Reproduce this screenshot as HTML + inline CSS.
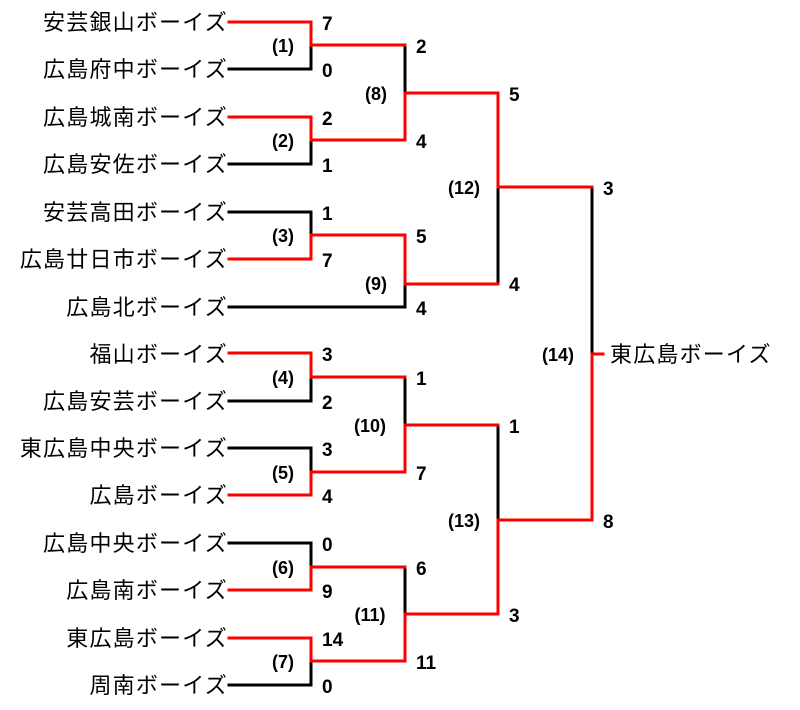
<!DOCTYPE html>
<html><head><meta charset="utf-8"><style>
html,body{margin:0;padding:0;background:#fff;}
svg{display:block}
.t{font-family:"Liberation Sans","Noto Sans CJK JP",sans-serif;font-size:22px;fill:#000;letter-spacing:1.2px}
.s{font-family:"Liberation Sans Narrow","Liberation Sans",sans-serif;font-size:19px;font-weight:bold;fill:#000}
.m{font-family:"Liberation Sans Narrow","Liberation Sans",sans-serif;font-size:18px;font-weight:bold;fill:#000;text-anchor:middle}
</style></head><body>
<svg width="800" height="710" viewBox="0 0 800 710" xmlns="http://www.w3.org/2000/svg">
<g fill="none" stroke-width="3" stroke-linecap="square">
<g stroke="#000">
<path d="M229 69H311V45"/>
<path d="M229 164H311V140"/>
<path d="M229 212H311V235"/>
<path d="M229 307H405V284"/>
<path d="M229 401H311V377"/>
<path d="M229 448H311V472"/>
<path d="M229 543H311V567"/>
<path d="M229 685H311V661"/>
<path d="M405 45V93"/>
<path d="M405 377V425"/>
<path d="M405 567V614"/>
<path d="M498 283V187"/>
<path d="M498 425V520"/>
<path d="M592 187V354"/>
</g>
<g stroke="#f00">
<path d="M229 22H311V45H405"/>
<path d="M229 117H311V140H405V93H498V187H592"/>
<path d="M229 259H311V235H405V284H498"/>
<path d="M229 353H311V377H405"/>
<path d="M229 495H311V472H405V425H498"/>
<path d="M229 590H311V567H405"/>
<path d="M229 638H311V661H405V614H498V520H592V354H603"/>
</g>
</g>
<g class="t" text-anchor="end">
<text x="228" y="30">安芸銀山ボーイズ</text>
<text x="228" y="77">広島府中ボーイズ</text>
<text x="228" y="125">広島城南ボーイズ</text>
<text x="228" y="172">広島安佐ボーイズ</text>
<text x="228" y="220">安芸高田ボーイズ</text>
<text x="228" y="267">広島廿日市ボーイズ</text>
<text x="228" y="315">広島北ボーイズ</text>
<text x="228" y="362">福山ボーイズ</text>
<text x="228" y="409">広島安芸ボーイズ</text>
<text x="228" y="456">東広島中央ボーイズ</text>
<text x="228" y="503">広島ボーイズ</text>
<text x="228" y="551">広島中央ボーイズ</text>
<text x="228" y="598">広島南ボーイズ</text>
<text x="228" y="646">東広島ボーイズ</text>
<text x="228" y="693">周南ボーイズ</text>
</g>
<text class="t" x="610" y="362">東広島ボーイズ</text>
<g class="s">
<text x="322" y="30">7</text><text x="322" y="77">0</text>
<text x="322" y="125">2</text><text x="322" y="172">1</text>
<text x="322" y="220">1</text><text x="322" y="267">7</text>
<text x="322" y="361">3</text><text x="322" y="409">2</text>
<text x="322" y="456">3</text><text x="322" y="503">4</text>
<text x="322" y="551">0</text><text x="322" y="598">9</text>
<text x="322" y="646">14</text><text x="322" y="693">0</text>
<text x="416" y="53">2</text><text x="416" y="148">4</text>
<text x="416" y="243">5</text><text x="416" y="315">4</text>
<text x="416" y="385">1</text><text x="416" y="480">7</text>
<text x="416" y="575">6</text><text x="416" y="669">11</text>
<text x="509" y="101">5</text><text x="509" y="291">4</text>
<text x="509" y="433">1</text><text x="509" y="622">3</text>
<text x="603" y="195">3</text><text x="603" y="528">8</text>
</g>
<g class="m">
<text x="283" y="52">(1)</text>
<text x="283" y="147">(2)</text>
<text x="283" y="242">(3)</text>
<text x="283" y="384">(4)</text>
<text x="283" y="479">(5)</text>
<text x="283" y="574">(6)</text>
<text x="283" y="668">(7)</text>
<text x="376" y="100">(8)</text>
<text x="376" y="290">(9)</text>
<text x="370" y="432">(10)</text>
<text x="370" y="621">(11)</text>
<text x="464" y="194">(12)</text>
<text x="464" y="527">(13)</text>
<text x="558" y="361">(14)</text>
</g>
</svg>
</body></html>
